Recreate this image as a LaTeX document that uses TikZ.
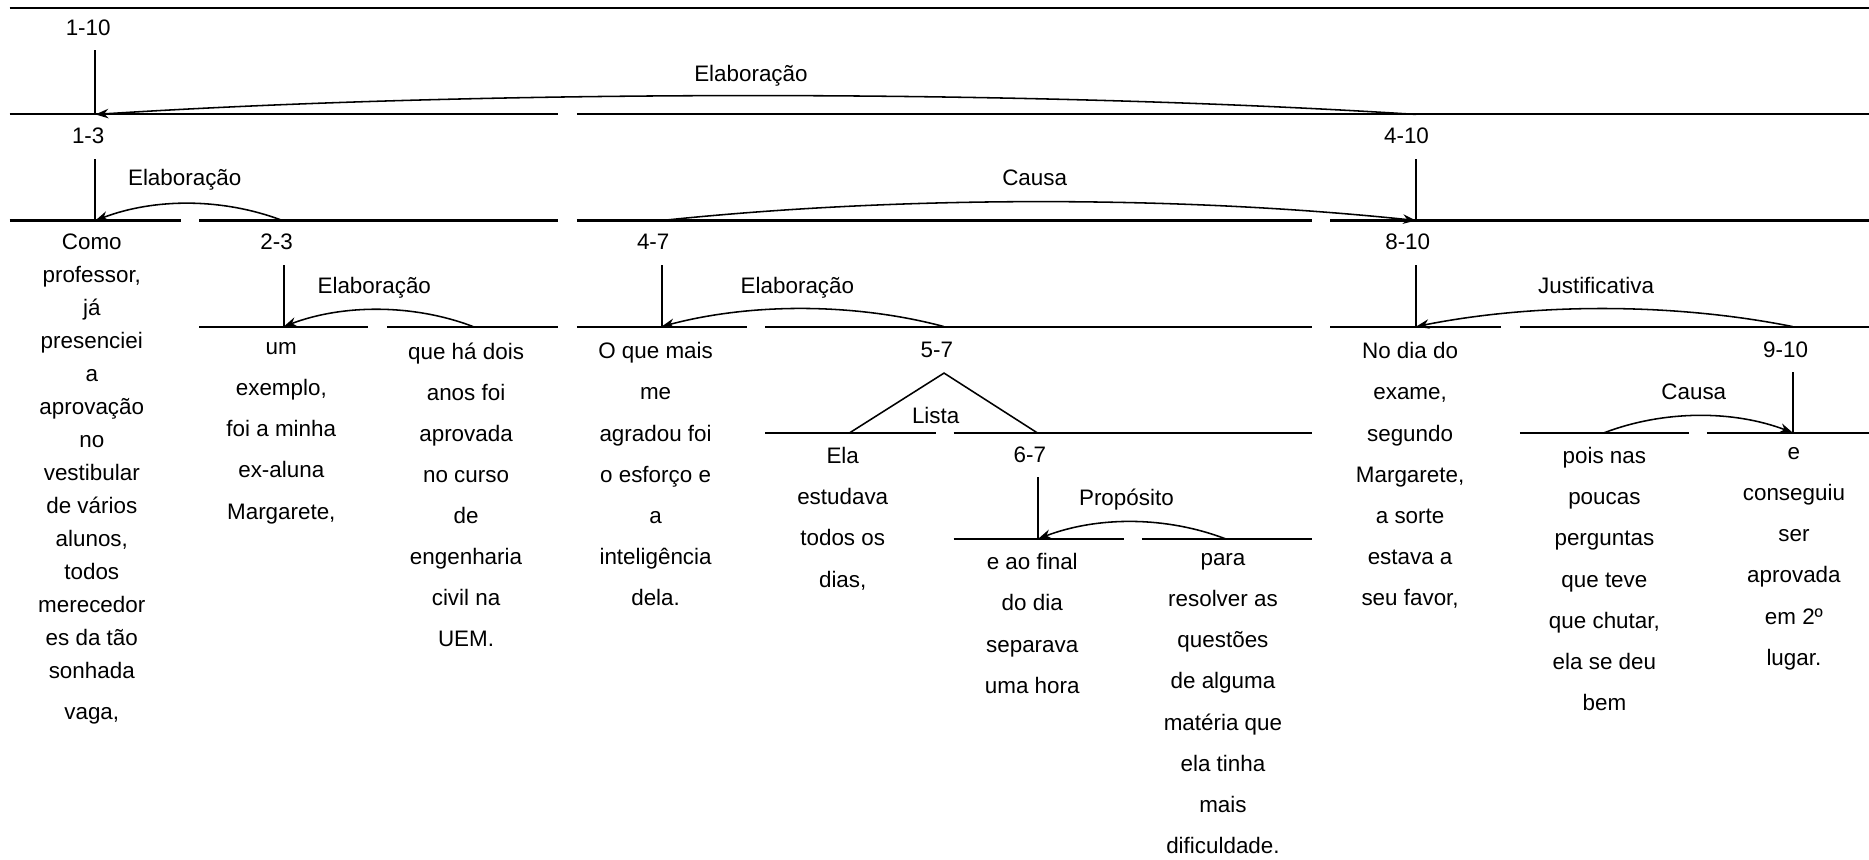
\documentclass[tikz,border=0pt]{standalone}
\usepackage{fontspec}
\setmainfont{Liberation Sans}
\usetikzlibrary{arrows.meta}

\tikzset{
  rel/.style={-{Stealth[length=5.5pt,width=4pt]}, line width=0.65pt},
  seg/.style={line width=0.85pt},
  span/.style={anchor=base, inner sep=0pt, font=\fontsize{9.4}{11}\selectfont},
  edu/.style={anchor=north, inner sep=0pt, align=center, font=\fontsize{9.4}{17.25}\selectfont,
    execute at begin node={\rule{0pt}{9pt}}},
}

\begin{document}
\begin{tikzpicture}[x=0.5pt, y=-0.5pt]
  \useasboundingbox (0,0) rectangle (1568,721);
  % linhas dos niveis
  \foreach \lev/\xa/\xb in {7/8/1568, 96/8/468, 96/484/1568,
      185/8/152, 185/167/468, 185/484/1101, 185/1116/1568,
      274/167/309, 274/325/468, 274/484/627, 274/642/1101, 274/1116/1259, 274/1275/1568,
      363/642/785, 363/800/1101, 363/1275/1417, 363/1432/1568,
      452/800/943, 452/958/1101}
    \draw[seg] (\xa,\lev) -- (\xb,\lev);

  % pontos de ligacao
  \coordinate (p13) at (80,96);
  \coordinate (p410) at (1188,96);
  \coordinate (p1) at (80,185);
  \coordinate (p23) at (237,185);
  \coordinate (p47) at (555,185);
  \coordinate (p810) at (1188,185);
  \coordinate (p2) at (238,274);
  \coordinate (p3) at (397,274);
  \coordinate (p4) at (555,274);
  \coordinate (p57) at (792,274);
  \coordinate (p8) at (1188,274);
  \coordinate (p910) at (1504,274);
  \coordinate (p5) at (713,363);
  \coordinate (p67) at (870,363);
  \coordinate (p9) at (1346,363);
  \coordinate (p10) at (1504,363);
  \coordinate (p6) at (871,452);
  \coordinate (p7) at (1028,452);
  \coordinate (top57) at (792,313);

  % spans
  \node[span] (s110) at (74,30) {1-10};
  \node[span] (s13) at (74,120) {1-3};
  \node[span] (s410) at (1180,120) {4-10};
  \node[span] (s23) at (232,209) {2-3};
  \node[span] (s47) at (548,209) {4-7};
  \node[span] (s810) at (1181,209) {8-10};
  \node[span] (s57) at (786,300) {5-7};
  \node[span] (s910) at (1498,300) {9-10};
  \node[span] (s67) at (864,388) {6-7};

  % nucleos
  \draw[seg] (p13) -- ++(0,-54);
  \draw[seg] (p1) -- ++(0,-52);
  \draw[seg] (p810) -- ++(0,-52);
  \draw[seg] (p2) -- ++(0,-52);
  \draw[seg] (p4) -- ++(0,-52);
  \draw[seg] (p8) -- ++(0,-52);
  \draw[seg] (p6) -- ++(0,-52);
  \draw[seg] (p10) -- ++(0,-51);
  \draw[line width=0.65pt] (p5) -- (top57) -- (p67);

  % relacoes
  \node[span] (r1) at (630,68) {Elaboração};
  \node[span] (r2) at (155,156) {Elaboração};
  \node[span] (r3) at (868,156) {Causa};
  \node[span] (r4) at (314,246) {Elaboração};
  \node[span] (r5) at (669,246) {Elaboração};
  \node[span] (r6) at (1339,246) {Justificativa};
  \node[span] (r7) at (785,355) {Lista};
  \node[span] (r8) at (1421,335) {Causa};
  \node[span] (r9) at (945,424) {Propósito};

  \draw[rel] (p410) .. controls +(-330,-21) and +(330,-21) .. (p13);
  \draw[rel] (p23) .. controls +(-50,-19) and +(50,-19) .. (p1);
  \draw[rel] (p47) .. controls +(200,-21) and +(-200,-21) .. (p810);
  \draw[rel] (p3) .. controls +(-50,-19) and +(50,-19) .. (p2);
  \draw[rel] (p57) .. controls +(-75,-20) and +(75,-20) .. (p4);
  \draw[rel] (p910) .. controls +(-100,-20) and +(100,-20) .. (p8);
  \draw[rel] (p9) .. controls +(50,-19) and +(-50,-19) .. (p10);
  \draw[rel] (p7) .. controls +(-50,-19) and +(50,-19) .. (p6);

  % segmentos
  \node[edu, font=\fontsize{9.4}{13.85}\selectfont] (e1) at (77,196)
    {Como\\professor,\\já\\presenciei\\a\\aprovação\\no\\vestibular\\de vários\\alunos,\\todos\\merecedor\\es da tão\\sonhada\\[3pt]vaga,};
  \node[edu] (e2) at (236,287) {um\\exemplo,\\foi a minha\\ex-aluna\\Margarete,};
  \node[edu] (e3) at (391,287) {que há dois\\anos foi\\aprovada\\no curso\\de\\engenharia\\civil na\\UEM.};
  \node[edu] (e4) at (550,287) {O que mais\\me\\agradou foi\\o esforço e\\a\\inteligência\\dela.};
  \node[edu] (e5) at (707,375) {Ela\\estudava\\todos os\\dias,};
  \node[edu] (e6) at (866,464) {e ao final\\do dia\\separava\\uma hora};
  \node[edu] (e7) at (1026,464) {para\\resolver as\\questões\\de alguma\\matéria que\\ela tinha\\mais\\dificuldade.};
  \node[edu] (e8) at (1183,287) {No dia do\\exame,\\segundo\\Margarete,\\a sorte\\estava a\\seu favor,};
  \node[edu] (e9) at (1346,375) {pois nas\\poucas\\perguntas\\que teve\\que chutar,\\ela se deu\\bem};
  \node[edu] (e10) at (1505,375) {e\\conseguiu\\ser\\aprovada\\em 2º\\lugar.};
\end{tikzpicture}
\end{document}
